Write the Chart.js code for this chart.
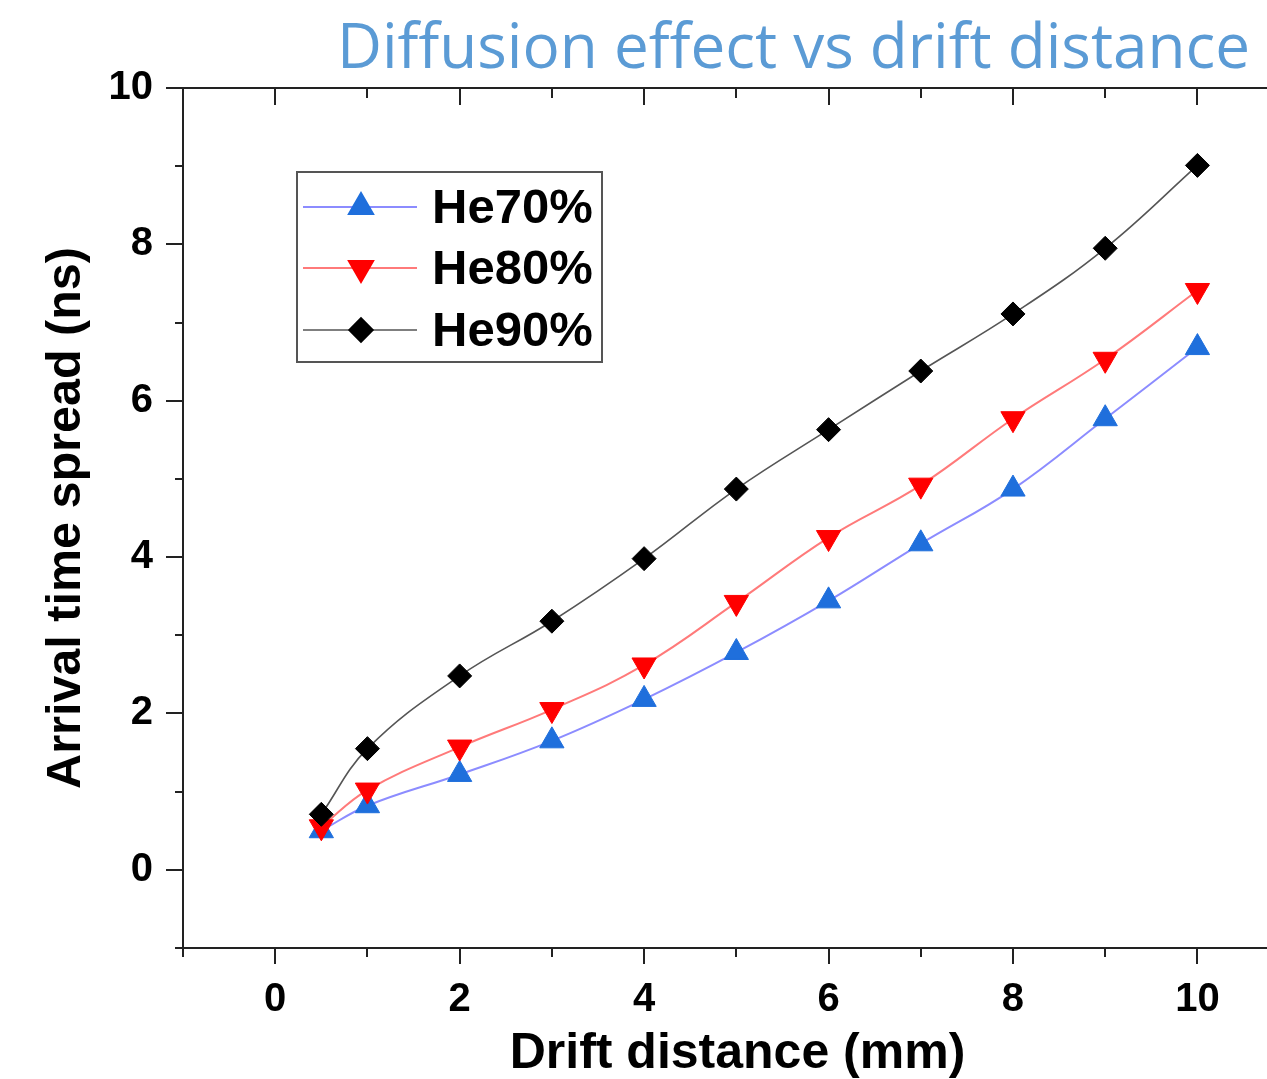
<!DOCTYPE html>
<html>
<head>
<meta charset="utf-8">
<script src="https://cdn.jsdelivr.net/npm/chart.js@4/dist/chart.umd.min.js"></script>
<style>
  html, body { margin: 0; padding: 0; background: #ffffff; overflow: hidden; }
  #wrap { width: 1267px; height: 1079px; position: relative; }
</style>
</head>
<body>
<div id="wrap"><canvas id="c" width="1267" height="1079"></canvas></div>
<script>
// ---- data ----
const chartTitle = 'Diffusion effect vs drift distance';
const xTitle = 'Drift distance (mm)';
const yTitle = 'Arrival time spread (ns)';
const seriesNames = ['He70%', 'He80%', 'He90%'];
const driftDistance = [0.5, 1, 2, 3, 4, 5, 6, 7, 8, 9, 10];
const he70 = [0.50, 0.82, 1.22, 1.65, 2.18, 2.78, 3.44, 4.17, 4.87, 5.77, 6.68];
const he80 = [0.55, 1.02, 1.57, 2.05, 2.62, 3.42, 4.25, 4.92, 5.77, 6.53, 7.41];
const he90 = [0.71, 1.55, 2.48, 3.18, 3.98, 4.87, 5.63, 6.38, 7.11, 7.95, 9.01];
const xTickValues = [-1, 0, 1, 2, 3, 4, 5, 6, 7, 8, 9, 10];
const xRange = [-1, 10.57];
const yRange = [-1, 10];

const toPoints = (ys) => driftDistance.map((x, i) => ({ x: x, y: ys[i] }));

const tickFont = { family: "'Liberation Sans', Arial, sans-serif", weight: 'bold', size: 40 };
const titleFont = { family: "'Liberation Sans', Arial, sans-serif", weight: 'bold', size: 48.5, lineHeight: 1.2 };
const axisColor = '#222222';

// ---- plugin: minor/major tick marks, top frame line, x-axis title ----
const frameTicks = {
  id: 'frameTicks',
  afterDraw(chart) {
    const { ctx, chartArea: a, scales } = chart;
    const xs = scales.x, ys = scales.y;
    ctx.save();
    ctx.strokeStyle = axisColor;
    ctx.lineWidth = 2;
    ctx.lineCap = 'butt';
    ctx.beginPath();
    // top frame line and bottom axis line extend to the canvas edge
    ctx.moveTo(a.left - 1, a.top);
    ctx.lineTo(chart.width, a.top);
    ctx.moveTo(a.right - 1, a.bottom);
    ctx.lineTo(chart.width, a.bottom);
    // left axis ticks (outward)
    for (let v = yRange[0]; v <= yRange[1]; v++) {
      const p = Math.round(ys.getPixelForValue(v));
      const len = (v % 2 === 0) ? 17 : 8;
      ctx.moveTo(a.left, p);
      ctx.lineTo(a.left - len, p);
    }
    // bottom axis ticks (outward) and top ticks (inward)
    xTickValues.forEach((v) => {
      const p = Math.round(xs.getPixelForValue(v));
      const len = (v % 2 === 0) ? 16 : 9;
      ctx.moveTo(p, a.bottom);
      ctx.lineTo(p, a.bottom + len);
      if (v > xRange[0]) {
        ctx.moveTo(p, a.top);
        ctx.lineTo(p, a.top + len + 1);
      }
    });
    ctx.stroke();
    // x-axis title (centred where the reference has it)
    ctx.fillStyle = '#000000';
    ctx.font = "bold 50px 'Liberation Sans', Arial, sans-serif";
    ctx.textAlign = 'center';
    ctx.textBaseline = 'middle';
    ctx.fillText(xTitle, (a.left + a.right) / 2 + 21, a.bottom + 106);
    ctx.restore();
  }
};

// ---- plugin: in-plot legend box ----
const boxLegend = {
  id: 'boxLegend',
  afterDatasetsDraw(chart) {
    const { ctx, chartArea: a } = chart;
    const bx = a.left + 114, by = a.top + 84, bw = 305, bh = 190;
    ctx.save();
    ctx.fillStyle = '#ffffff';
    ctx.fillRect(bx, by, bw, bh);
    ctx.strokeStyle = '#555555';
    ctx.lineWidth = 2;
    ctx.strokeRect(bx, by, bw, bh);
    const rowY = [by + 35, by + 96, by + 158];
    chart.data.datasets.forEach((ds, i) => {
      const y = rowY[i];
      ctx.strokeStyle = ds.borderColor;
      ctx.lineWidth = ds.borderWidth;
      ctx.beginPath();
      ctx.moveTo(bx + 6, y);
      ctx.lineTo(bx + 120, y);
      ctx.stroke();
      ctx.fillStyle = ds.pointBackgroundColor;
      ctx.strokeStyle = ds.pointBorderColor;
      Chart.helpers.drawPoint(ctx, {
        pointStyle: ds.pointStyle,
        rotation: ds.pointRotation || 0,
        radius: ds.pointRadius,
        borderWidth: 1
      }, bx + 64, y);
      ctx.fillStyle = '#000000';
      ctx.font = "bold 49px 'Liberation Sans', Arial, sans-serif";
      ctx.textBaseline = 'middle';
      ctx.textAlign = 'left';
      ctx.fillText(ds.label, bx + 135, y + 2);
    });
    ctx.restore();
  }
};

new Chart(document.getElementById('c'), {
  type: 'line',
  data: {
    datasets: [
      {
        label: seriesNames[0],
        data: toPoints(he70),
        borderColor: '#8c8cff',
        borderWidth: 2,
        pointStyle: 'triangle',
        pointRotation: 0,
        pointRadius: 14,
        pointBackgroundColor: '#1f6fdc',
        pointBorderColor: '#1f6fdc',
        pointBorderWidth: 1,
        tension: 0.4,
        order: 2
      },
      {
        label: seriesNames[1],
        data: toPoints(he80),
        borderColor: '#ff7a7a',
        borderWidth: 2,
        pointStyle: 'triangle',
        pointRotation: 180,
        pointRadius: 14,
        pointBackgroundColor: '#ff0000',
        pointBorderColor: '#ff0000',
        pointBorderWidth: 1,
        tension: 0.4,
        order: 1
      },
      {
        label: seriesNames[2],
        data: toPoints(he90),
        borderColor: '#555555',
        borderWidth: 1.6,
        pointStyle: 'rectRot',
        pointRotation: 0,
        pointRadius: 12,
        pointBackgroundColor: '#000000',
        pointBorderColor: '#000000',
        pointBorderWidth: 1,
        tension: 0.4,
        order: 0
      }
    ]
  },
  options: {
    responsive: false,
    devicePixelRatio: 1,
    animation: false,
    layout: { padding: { top: 0, right: 17, bottom: 0, left: 0 } },
    plugins: {
      legend: { display: false },
      tooltip: { enabled: false },
      title: {
        display: true,
        text: chartTitle,
        align: 'end',
        color: '#5b9bd5',
        font: { family: "'Open Sans', sans-serif", weight: 'normal', size: 62, lineHeight: 1.2 },
        padding: { top: 13, bottom: 0.6 }
      }
    },
    scales: {
      x: {
        type: 'linear',
        position: 'bottom',
        min: xRange[0],
        max: xRange[1],
        afterFit(s) { s.height = 131; },
        afterBuildTicks(s) { s.ticks = xTickValues.map((v) => ({ value: v })); },
        ticks: {
          autoSkip: false,
          maxRotation: 0,
          minRotation: 0,
          color: '#000000',
          font: tickFont,
          padding: 12,
          callback: (v) => (Number.isInteger(v) && v >= 0 && v % 2 === 0) ? String(v) : ''
        },
        grid: { display: false, drawTicks: true, tickLength: 16 },
        border: { display: true, color: axisColor, width: 2 },
        title: { display: false, text: xTitle }
      },
      y: {
        type: 'linear',
        position: 'left',
        min: yRange[0],
        max: yRange[1],
        afterFit(s) { s.width = 183; },
        ticks: {
          stepSize: 1,
          autoSkip: false,
          color: '#000000',
          font: tickFont,
          padding: 13,
          callback: (v) => (Number.isInteger(v) && v >= 0 && v % 2 === 0) ? String(v) : ''
        },
        grid: { display: false, drawTicks: true, tickLength: 17 },
        border: { display: true, color: axisColor, width: 2 },
        title: { display: true, text: yTitle, color: '#000000', font: titleFont, padding: { top: 38, bottom: 0 } }
      }
    }
  },
  plugins: [frameTicks, boxLegend]
});
</script>
</body>
</html>
